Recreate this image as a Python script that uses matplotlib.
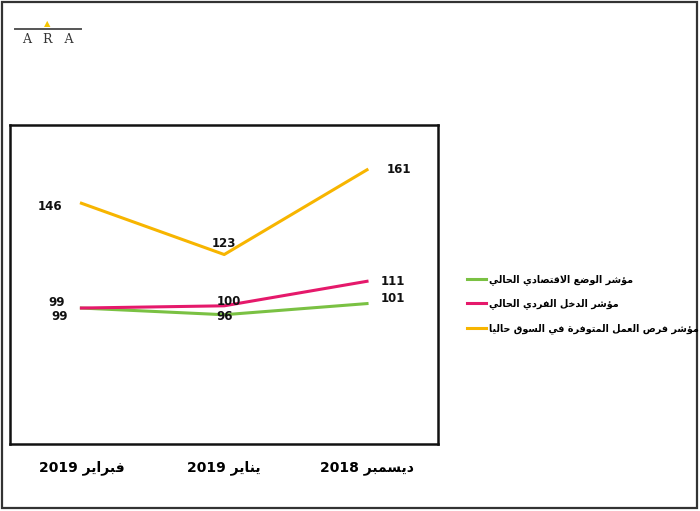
import matplotlib
matplotlib.use('Agg')
import matplotlib.pyplot as plt
from matplotlib.patches import Rectangle

# ---------------- data ----------------
months = ['فبراير 2019', 'يناير 2019', 'ديسمبر 2018']
series_names = [
    'مؤشر الوضع الاقتصادي الحالي',
    'مؤشر الدخل الفردي الحالي',
    'مؤشر فرص العمل المتوفرة في السوق حاليا',
]
economy = [99, 96, 101]
income = [99, 100, 111]
jobs = [146, 123, 161]

COLORS = ['#7ac143', '#e5196b', '#f7b500']

# ---------------- minimal arabic shaping ----------------
# letter: (isolated, final, initial, medial); 2-tuple = joins to the right only
FORMS = {
    'ا': (0xFE8D, 0xFE8E), 'أ': (0xFE83, 0xFE84), 'إ': (0xFE87, 0xFE88),
    'آ': (0xFE81, 0xFE82), 'ؤ': (0xFE85, 0xFE86), 'ة': (0xFE93, 0xFE94),
    'د': (0xFEA9, 0xFEAA), 'ذ': (0xFEAB, 0xFEAC), 'ر': (0xFEAD, 0xFEAE),
    'ز': (0xFEAF, 0xFEB0), 'و': (0xFEED, 0xFEEE), 'ى': (0xFEEF, 0xFEF0),
    'ب': (0xFE8F, 0xFE90, 0xFE91, 0xFE92), 'ت': (0xFE95, 0xFE96, 0xFE97, 0xFE98),
    'ث': (0xFE99, 0xFE9A, 0xFE9B, 0xFE9C), 'ج': (0xFE9D, 0xFE9E, 0xFE9F, 0xFEA0),
    'ح': (0xFEA1, 0xFEA2, 0xFEA3, 0xFEA4), 'خ': (0xFEA5, 0xFEA6, 0xFEA7, 0xFEA8),
    'س': (0xFEB1, 0xFEB2, 0xFEB3, 0xFEB4), 'ش': (0xFEB5, 0xFEB6, 0xFEB7, 0xFEB8),
    'ص': (0xFEB9, 0xFEBA, 0xFEBB, 0xFEBC), 'ض': (0xFEBD, 0xFEBE, 0xFEBF, 0xFEC0),
    'ط': (0xFEC1, 0xFEC2, 0xFEC3, 0xFEC4), 'ظ': (0xFEC5, 0xFEC6, 0xFEC7, 0xFEC8),
    'ع': (0xFEC9, 0xFECA, 0xFECB, 0xFECC), 'غ': (0xFECD, 0xFECE, 0xFECF, 0xFED0),
    'ف': (0xFED1, 0xFED2, 0xFED3, 0xFED4), 'ق': (0xFED5, 0xFED6, 0xFED7, 0xFED8),
    'ك': (0xFED9, 0xFEDA, 0xFEDB, 0xFEDC), 'ل': (0xFEDD, 0xFEDE, 0xFEDF, 0xFEE0),
    'م': (0xFEE1, 0xFEE2, 0xFEE3, 0xFEE4), 'ن': (0xFEE5, 0xFEE6, 0xFEE7, 0xFEE8),
    'ه': (0xFEE9, 0xFEEA, 0xFEEB, 0xFEEC), 'ي': (0xFEF1, 0xFEF2, 0xFEF3, 0xFEF4),
    'ئ': (0xFE89, 0xFE8A, 0xFE8B, 0xFE8C),
}
LAM_ALEF = {'ا': (0xFEFB, 0xFEFC), 'أ': (0xFEF7, 0xFEF8),
            'إ': (0xFEF9, 0xFEFA), 'آ': (0xFEF5, 0xFEF6)}


def shape_word(word):
    # merge lam+alef into ligature placeholders
    chars = []
    i = 0
    while i < len(word):
        if word[i] == 'ل' and i + 1 < len(word) and word[i + 1] in LAM_ALEF:
            chars.append(('LA', word[i + 1]))
            i += 2
        else:
            chars.append(word[i])
            i += 1

    def forms(c):
        if isinstance(c, tuple):
            return LAM_ALEF[c[1]]
        return FORMS.get(c)

    out = []
    for k, c in enumerate(chars):
        f = forms(c)
        if f is None:
            out.append(c if isinstance(c, str) else 'لا')
            continue
        prev = forms(chars[k - 1]) if k > 0 else None
        nxt = forms(chars[k + 1]) if k + 1 < len(chars) else None
        join_prev = prev is not None and len(prev) == 4 and not isinstance(chars[k - 1], tuple)
        join_next = len(f) == 4 and nxt is not None
        if join_prev and join_next:
            code = f[3]
        elif join_prev:
            code = f[1]
        elif join_next:
            code = f[2]
        else:
            code = f[0]
        out.append(chr(code))
    return ''.join(out)


def rtl(text):
    tokens = []
    for tok in text.split(' '):
        if any(ch in FORMS for ch in tok):
            tokens.append(shape_word(tok)[::-1])
        else:
            tokens.append(tok)
    return ' '.join(tokens[::-1])


# ---------------- plot ----------------
plt.rcParams['font.family'] = ['DejaVu Sans']

fig = plt.figure(figsize=(7.0, 5.11), dpi=100)
ax = fig.add_axes([0.0143, 0.131, 0.612, 0.624])

x = list(range(len(months)))
lines = []
for vals, name, col in zip([economy, income, jobs], series_names, COLORS):
    ln, = ax.plot(x, vals, color=col, linewidth=2.2, label=rtl(name))
    lines.append(ln)

lab = dict(fontsize=8.5, fontweight='bold', color='#111111')
# jobs labels
ax.annotate(str(jobs[0]), (x[0], jobs[0]), xytext=(-14, -2), textcoords='offset points', ha='right', va='center', **lab)
ax.annotate(str(jobs[1]), (x[1], jobs[1]), xytext=(0, 8), textcoords='offset points', ha='center', va='center', **lab)
ax.annotate(str(jobs[2]), (x[2], jobs[2]), xytext=(14, 0), textcoords='offset points', ha='left', va='center', **lab)
# income labels
ax.annotate(str(income[0]), (x[0], income[0]), xytext=(-12, 4), textcoords='offset points', ha='right', va='center', **lab)
ax.annotate(str(income[1]), (x[1], income[1]), xytext=(3, 3), textcoords='offset points', ha='center', va='center', **lab)
ax.annotate(str(income[2]), (x[2], income[2]), xytext=(10, 0), textcoords='offset points', ha='left', va='center', **lab)
# economy labels
ax.annotate(str(economy[0]), (x[0], economy[0]), xytext=(-10, -6), textcoords='offset points', ha='right', va='center', **lab)
ax.annotate(str(economy[1]), (x[1], economy[1]), xytext=(0, -1), textcoords='offset points', ha='center', va='center', **lab)
ax.annotate(str(economy[2]), (x[2], economy[2]), xytext=(10, 4), textcoords='offset points', ha='left', va='center', **lab)

ax.set_xlim(-0.5, 2.5)
ax.set_ylim(38, 181)
ax.set_xticks(x)
ax.set_xticklabels([rtl(m) for m in months], fontsize=10, fontweight='bold')
ax.tick_params(axis='x', length=0, pad=12)
ax.set_yticks([])
for s in ax.spines.values():
    s.set_linewidth(1.8)
    s.set_color('#111111')

fig.legend(handles=lines, loc='center left', bbox_to_anchor=(0.655, 0.405),
           frameon=False, handlelength=2.0, handletextpad=0.3, labelspacing=1.45,
           prop={'weight': 'bold', 'size': 6.9})

# outer frame
fig.patches.append(Rectangle((0.003, 0.006), 0.993, 0.991, transform=fig.transFigure,
                             fill=False, edgecolor='#333333', linewidth=1.6))

# ARA logo
fig.add_artist(plt.Line2D([0.021, 0.116], [0.944, 0.944], transform=fig.transFigure,
                          color='#555555', linewidth=1.4))
fig.text(0.068, 0.946, '\u25B2', color='#f7c600', fontsize=6, ha='center', va='bottom')
fig.text(0.068, 0.936, 'A   R   A', fontsize=9, family='DejaVu Serif', color='#333333',
         ha='center', va='top')

fig.savefig('out.png', dpi=100)
